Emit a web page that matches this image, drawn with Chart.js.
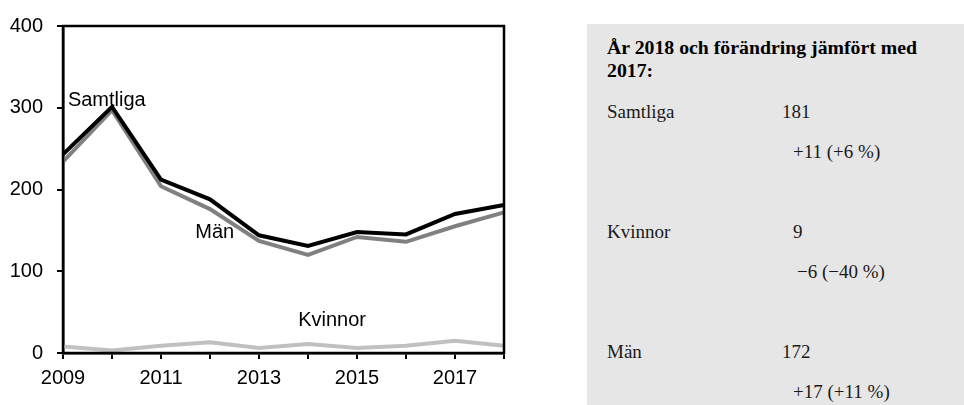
<!DOCTYPE html>
<html>
<head>
<meta charset="utf-8">
<script src="https://cdn.jsdelivr.net/npm/chart.js@4/dist/chart.umd.min.js"></script>
<style>
  body { margin: 0; background: #fff; width: 964px; height: 405px; position: relative; overflow: hidden; }
  #wrap { position: absolute; left: 0; top: 0; width: 522px; height: 405px; }
  #panel { position: absolute; left: 587px; top: 24px; width: 377px; height: 381px; background: #e6e6e6;
           font-family: "Liberation Serif", "Times New Roman", serif; font-size: 19px; color: #1a1a1a; }
  #panel div { position: absolute; white-space: nowrap; line-height: 1; }
  #panel .title { font-weight: bold; font-size: 19.8px; color: #000; }
</style>
</head>
<body>
<div id="wrap"><canvas id="myChart"></canvas></div>
<div id="panel"></div>
<script>
const years = ['2009', '2010', '2011', '2012', '2013', '2014', '2015', '2016', '2017', '2018'];
const samtliga = [243, 301, 212, 188, 144, 131, 148, 145, 170, 181];
const man = [234, 297, 204, 176, 137, 120, 142, 136, 155, 172];
const kvinnor = [8, 3, 9, 13, 6, 11, 6, 9, 15, 9];
const yTicks = [0, 100, 200, 300, 400];
// summary panel text
const summaryTitle = ['År 2018 och förändring jämfört med', '2017:'];
const summaryNames = ['Samtliga', 'Kvinnor', 'Män'];
const summaryValues = ['181', '9', '172'];
const summaryChanges = ['+11 (+6 %)', '\u22126 (\u221240 %)', '+17 (+11 %)'];

// PANEL
const panel = document.getElementById('panel');
function addText(txt, x, baseline, cls) {
  const d = document.createElement('div');
  d.textContent = txt;
  if (cls) d.className = cls;
  d.style.left = x + 'px';
  d.style.top = (baseline - 24 - 15) + 'px';
  panel.appendChild(d);
}
addText(summaryTitle[0], 20, 53, 'title');
addText(summaryTitle[1], 20, 76, 'title');
summaryNames.forEach((n, i) => {
  const base = 117 + i * 120;
  addText(n, 20, base);
  addText(summaryValues[i], summaryValues[i].length === 1 ? 206 : 195, base);
  addText(summaryChanges[i], summaryChanges[i][0] === '+' ? 206 : 210, base + 40);
});

// CHART
const frame = {
  id: 'frame',
  afterDatasetsDraw(chart) {
    const a = chart.chartArea, c = chart.ctx;
    c.save();
    c.strokeStyle = '#000';
    c.lineWidth = 2.5;
    c.strokeRect(a.left, a.top, a.right - a.left, a.bottom - a.top);
    c.restore();
  }
};
const seriesLabels = {
  id: 'seriesLabels',
  afterDatasetsDraw(chart, args, opts) {
    const c = chart.ctx, x = chart.scales.x, y = chart.scales.y;
    c.save();
    c.font = '20px "Liberation Sans", Arial, sans-serif';
    c.fillStyle = '#000';
    c.textBaseline = 'middle';
    opts.items.forEach(it => {
      c.fillText(it.text, x.getPixelForValue(it.x), y.getPixelForValue(it.y));
    });
    c.restore();
  }
};

const ctx = document.getElementById('myChart').getContext('2d');
const chart = new Chart(ctx, {
  type: 'line',
  data: {
    labels: years,
    datasets: [
      { label: 'Samtliga', data: samtliga, borderColor: '#000', borderWidth: 4, order: 0 },
      { label: 'Män', data: man, borderColor: '#808080', borderWidth: 4, order: 1 },
      { label: 'Kvinnor', data: kvinnor, borderColor: '#c0c0c0', borderWidth: 4, order: 2 }
    ]
  },
  options: {
    responsive: true,
    maintainAspectRatio: false,
    animation: false,
    elements: { point: { radius: 0 }, line: { tension: 0, borderJoinStyle: 'miter' } },
    layout: { padding: { top: 23.5, right: 18, left: 0, bottom: 0 } },
    plugins: {
      legend: { display: false },
      tooltip: { enabled: false },
      seriesLabels: {
        items: [
          { text: 'Samtliga', x: 0.1, y: 309 },
          { text: 'Män', x: 2.7, y: 147 },
          { text: 'Kvinnor', x: 4.8, y: 40 }
        ]
      }
    },
    scales: {
      x: {
        offset: false,
        afterFit: s => { s.height = 52; },
        grid: { drawOnChartArea: false, color: '#000', lineWidth: 2, tickLength: 6 },
        border: { color: '#000', width: 2.5 },
        ticks: {
          autoSkip: false, maxRotation: 0, color: '#000', padding: 7,
          font: { family: '"Liberation Sans", Arial, sans-serif', size: 20 },
          callback: (v, i) => (i % 2 === 0 ? years[i] : '')
        }
      },
      y: {
        min: 0, max: 400,
        afterFit: s => { s.width = 63; },
        afterBuildTicks: s => { s.ticks = yTicks.map(v => ({ value: v })); },
        grid: { drawOnChartArea: false, color: '#000', lineWidth: 2, tickLength: 6 },
        border: { color: '#000', width: 2.5 },
        ticks: {
          color: '#000', padding: 14,
          font: { family: '"Liberation Sans", Arial, sans-serif', size: 20 }
        }
      }
    }
  },
  plugins: [frame, seriesLabels]
});
</script>
</body>
</html>
